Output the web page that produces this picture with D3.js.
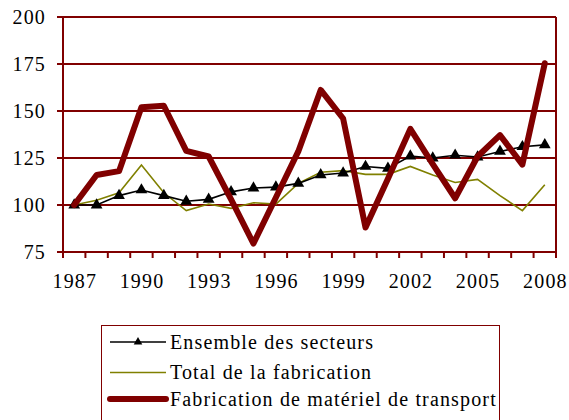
<!DOCTYPE html>
<html>
<head>
<meta charset="utf-8">
<script src="https://cdn.jsdelivr.net/npm/d3@7"></script>
<style>
  body { margin: 0; background: #fff; }
</style>
</head>
<body>
<svg id="chart" width="569" height="420"></svg>
<script>
// data
const years = d3.range(1987, 2009).map(String);
const ensemble = [100, 100, 105, 108, 105, 102, 103, 107, 109, 109.5, 111.5, 116, 117, 120.5, 119.5, 126, 125, 126.5, 125.5, 128.5, 131, 132];
const fabrication = [100, 102.5, 106.5, 121.3, 106.5, 97, 100.5, 98.2, 101.2, 100.5, 111.5, 117.4, 118.3, 116.3, 116.3, 120.5, 116, 112, 113.6, 105, 97, 110.8];
const transport = [100, 116, 118, 152, 152.8, 128.8, 125.8, 103, 79.5, 104, 128.5, 161.2, 146, 88, 114, 140.5, 121.8, 103.6, 125.8, 137.2, 121.5, 175.4];
const yTicks = [75, 100, 125, 150, 175, 200];
const xLabels = ['1987', '1990', '1993', '1996', '1999', '2002', '2005', '2008'];
const seriesNames = ['Ensemble des secteurs', 'Total de la fabrication', 'Fabrication de matériel de transport'];

const RED = '#800000';
const FONT = '"Liberation Serif"';
const SPACING = '1.15px';
const PLOT = {left: 63, right: 556, top: 17, bottom: 252};

const svg = d3.select('#chart');

const x = d3.scaleBand().domain(years).range([PLOT.left, PLOT.right]).padding(0);
const xb = d3.scaleLinear().domain([0, years.length]).range([PLOT.left, PLOT.right]);
const y = d3.scaleLinear().domain([75, 200]).range([PLOT.bottom, PLOT.top]);
const cx = d => x(d) + x.bandwidth() / 2;

// gridlines + left ticks
svg.append('g')
  .selectAll('line')
  .data(yTicks)
  .enter()
  .append('line')
  .attr('x1', PLOT.left - 6)
  .attr('x2', PLOT.right)
  .attr('y1', d => y(d))
  .attr('y2', d => y(d))
  .attr('stroke', RED)
  .attr('stroke-width', 2);

// left / right frame
svg.append('line')
  .attr('x1', PLOT.left).attr('x2', PLOT.left)
  .attr('y1', PLOT.top).attr('y2', PLOT.bottom)
  .attr('stroke', RED).attr('stroke-width', 2);
svg.append('line')
  .attr('x1', PLOT.right).attr('x2', PLOT.right)
  .attr('y1', PLOT.top).attr('y2', PLOT.bottom + 6)
  .attr('stroke', RED).attr('stroke-width', 2);

// y labels
svg.append('g')
  .selectAll('text')
  .data(yTicks)
  .enter()
  .append('text')
  .attr('x', 46)
  .attr('y', d => y(d) + 6.5)
  .attr('text-anchor', 'end')
  .attr('font-size', 20)
  .style('font-family', FONT)
  .style('letter-spacing', SPACING)
  .text(d => d);

// bottom ticks at band boundaries
svg.append('g')
  .selectAll('line')
  .data(d3.range(years.length + 1))
  .enter()
  .append('line')
  .attr('x1', d => xb(d))
  .attr('x2', d => xb(d))
  .attr('y1', PLOT.bottom)
  .attr('y2', PLOT.bottom + 6)
  .attr('stroke', RED)
  .attr('stroke-width', 2);

svg.append('g')
  .selectAll('text')
  .data(xLabels)
  .enter()
  .append('text')
  .attr('x', d => cx(d) + 0.6)
  .attr('y', 288)
  .attr('text-anchor', 'middle')
  .attr('font-size', 20)
  .style('font-family', FONT)
  .style('letter-spacing', SPACING)
  .text(d => d);

const line = vals => d3.line()
  .x((d, i) => cx(years[i]))
  .y(d => y(d))(vals);

svg.append('path')
  .attr('d', line(fabrication))
  .attr('fill', 'none')
  .attr('stroke', '#808000')
  .attr('stroke-width', 1.6);

svg.append('path')
  .attr('d', line(ensemble))
  .attr('fill', 'none')
  .attr('stroke', '#000')
  .attr('stroke-width', 1.6);

svg.append('g')
  .selectAll('path')
  .data(ensemble)
  .enter()
  .append('path')
  .attr('d', d3.symbol(d3.symbolTriangle, 60))
  .attr('transform', (d, i) => `translate(${cx(years[i])},${y(d)})`)
  .attr('fill', '#000');

svg.append('path')
  .attr('d', line(transport))
  .attr('fill', 'none')
  .attr('stroke', RED)
  .attr('stroke-width', 6)
  .attr('stroke-linejoin', 'round')
  .attr('stroke-linecap', 'round');

// legend
const legend = svg.append('g');
legend.append('rect')
  .attr('x', 101.5).attr('y', 325.5)
  .attr('width', 398).attr('height', 110)
  .attr('fill', 'none')
  .attr('stroke', RED)
  .attr('stroke-width', 1);

const rowY = [342, 372.5, 399];
const rowStroke = ['#000', '#808000', RED];
const rowWidth = [1.6, 1.6, 6];

seriesNames.forEach((name, i) => {
  legend.append('line')
    .attr('x1', 110).attr('x2', 166)
    .attr('y1', rowY[i]).attr('y2', rowY[i])
    .attr('stroke', rowStroke[i])
    .attr('stroke-width', rowWidth[i])
    .attr('stroke-linecap', i === 2 ? 'round' : 'butt');
  legend.append('text')
    .attr('x', 170)
    .attr('y', rowY[i] + 6.5)
    .attr('font-size', 20)
    .style('font-family', FONT)
    .style('letter-spacing', SPACING)
    .text(name);
});
legend.append('path')
  .attr('d', d3.symbol(d3.symbolTriangle, 32))
  .attr('transform', `translate(138,${rowY[0]})`)
  .attr('fill', '#000');

// force layout of the text so the font is picked up
svg.selectAll('text').each(function() { this.getComputedTextLength(); });
</script>
</body>
</html>
